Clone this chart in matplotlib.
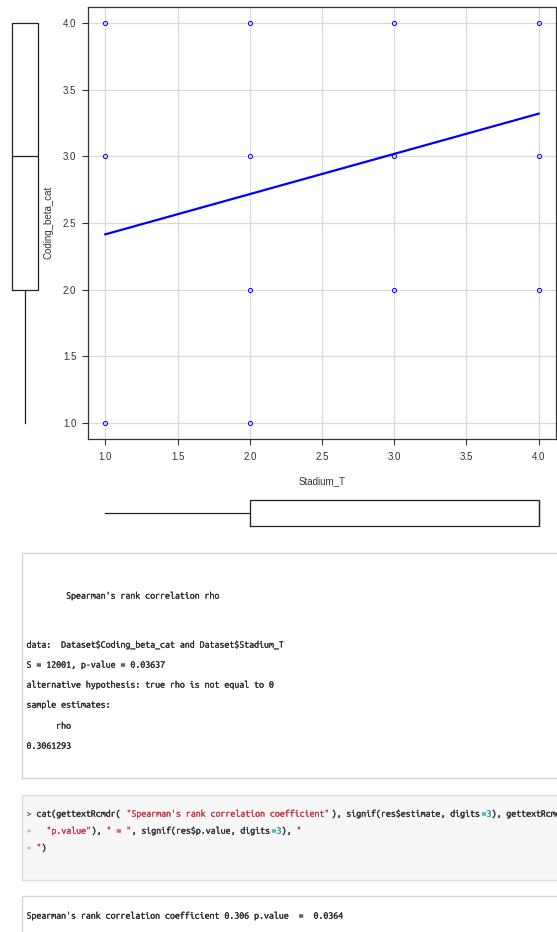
import matplotlib
matplotlib.use("Agg")
import matplotlib.pyplot as plt
import matplotlib.patheffects as pe
from matplotlib import font_manager as fm
from matplotlib.patches import Rectangle

W, H = 557, 932

# scatter: one mark per distinct (Stadium_T, Coding_beta_cat) pair
stadium_t = [1, 2, 3, 4, 1, 2, 3, 4, 2, 3, 4, 1, 2]
coding_beta = [4, 4, 4, 4, 3, 3, 3, 3, 2, 2, 2, 1, 1]

# least-squares line
fit_x = [1.0, 4.0]
fit_y = [2.415, 3.32]

# marginal boxplot summaries
box_coding = dict(whislo=1.0, q1=2.0, med=3.0, q3=4.0, whishi=4.0, fliers=[])
box_stadium = dict(whislo=1.0, q1=2.0, med=4.0, q3=4.0, whishi=4.0, fliers=[])

ticks = [1.0, 1.5, 2.0, 2.5, 3.0, 3.5, 4.0]

# R console output (plain lines)
test_lines = [
    "        Spearman's rank correlation rho",
    "data:  Dataset$Coding_beta_cat and Dataset$Stadium_T",
    "S = 12001, p-value = 0.03637",
    "alternative hypothesis: true rho is not equal to 0",
    "sample estimates:",
    "      rho",
    "0.3061293",
]
test_y = [595, 644, 664, 684, 704, 725, 745]

# R command, as (segment, kind) pieces per line
code_lines = [
    [("> ", "prompt"), ("cat(gettextRcmdr( ", "code"),
     ("\"Spearman's rank correlation coefficient\"", "string"),
     ("), signif(res$estimate, digits", "code"), ("=3", "number"),
     ("), gettextRcmdr(", "code")],
    [("+   ", "prompt"), ("\"p.value\"", "string"), ("), ", "code"),
     ("\" = \"", "string"), (", signif(res$p.value, digits", "code"),
     ("=3", "number"), ("), ", "code"), ("\"", "string")],
    [("+ ", "prompt"), ("\"", "string"), (")", "code")],
]
code_y = [813, 830, 847]

result_line = "Spearman's rank correlation coefficient 0.306 p.value  =  0.0364"
result_y = 915

KIND_COLOURS = {"prompt": "#777777", "code": "#262626",
                "string": "#c92f3e", "number": "#1d9aa3"}

available = {f.name for f in fm.fontManager.ttflist}
MONO = next(f for f in ["Ubuntu Mono", "Inconsolata", "PT Mono",
                        "DejaVu Sans Mono"] if f in available)
SANS = "Liberation Sans"
CHAR_W = 4.93   # px per character in the console panes


def px_rect(x, y, w, h):
    return [x / W, 1 - (y + h) / H, w / W, h / H]


fig = plt.figure(figsize=(W / 100, H / 100), dpi=100)
fig.patch.set_facecolor("white")

# ── console panes (full-figure axes in pixel units) ─────────────────────────
tx = fig.add_axes([0, 0, 1, 1], zorder=0)
tx.set_xlim(0, W)
tx.set_ylim(H, 0)
tx.axis("off")

tx.add_patch(Rectangle((21.5, 552.5), 560, 225, fc="white", ec="#d4d4d4", lw=1))
tx.add_patch(Rectangle((21.5, 794.5), 560, 85, fc="#f7f7f7", ec="#dcdcdc", lw=1))
tx.add_patch(Rectangle((21.5, 895.5), 560, 60, fc="white", ec="#d4d4d4", lw=1))

renderer = fig.canvas.get_renderer()


def advance(size):
    a = tx.text(0, 0, "0" * 41, fontfamily=MONO, fontsize=size)
    b = tx.text(0, 0, "0", fontfamily=MONO, fontsize=size)
    w = (a.get_window_extent(renderer).width
         - b.get_window_extent(renderer).width) / 40
    a.remove()
    b.remove()
    return w


# size the mono font so one character advances CHAR_W pixels
FS = 10 * CHAR_W / advance(10)
ADV = advance(FS)
X0 = 26.5
BASE = 3.6


def put(x_chars, y, s, colour):
    tx.text(X0 + x_chars * ADV, y + BASE, s, fontfamily=MONO, fontsize=FS,
            color=colour, va="baseline", ha="left", parse_math=False,
            path_effects=[pe.withStroke(linewidth=0.18, foreground=colour)])


for line, y in zip(test_lines, test_y):
    put(0, y, line, "#262626")

for pieces, y in zip(code_lines, code_y):
    col = 0
    for seg, kind in pieces:
        put(col, y, seg, KIND_COLOURS[kind])
        col += len(seg)

put(0, result_y, result_line, "#262626")

# ── scatter plot ────────────────────────────────────────────────────────────
ax = fig.add_axes(px_rect(88, 7, 468, 432), zorder=2)
ax.plot(fit_x, fit_y, color="#0000ff", lw=1.6, zorder=3)
ax.plot(stadium_t, coding_beta, ls="none", marker="o", ms=3, mfc="none",
        mec="#0000ff", mew=0.7, zorder=4)
ax.set_xlim(0.88, 4.12)
ax.set_ylim(0.88, 4.12)
ax.set_xticks(ticks)
ax.set_yticks(ticks)
ax.set_xticklabels([f"{t:.1f}" for t in ticks], fontfamily=SANS)
ax.set_yticklabels([f"{t:.1f}" for t in ticks], fontfamily=SANS)
ax.grid(color="#d9d9d9", lw=0.9)
ax.set_axisbelow(True)
ax.tick_params(direction="out", length=4, width=0.8, color="#333333",
               labelsize=7, labelcolor="#333333")
ax.tick_params(axis="x", pad=5)
ax.tick_params(axis="y", pad=4.5)
for sp in ax.spines.values():
    sp.set_color("#333333")
    sp.set_linewidth(0.9)

ax.set_xlabel("Stadium_T", fontfamily=SANS, fontsize=7, color="#333333")
ax.xaxis.set_label_coords(0.5, -(481 - 439) / 432)
ax.xaxis.label.set_va("center")
ax.set_ylabel("Coding_beta_cat", fontfamily=SANS, fontsize=7, color="#333333")
ax.yaxis.set_label_coords((48 - 88) / 468, 0.5 - (222 - 223) / 432)
ax.yaxis.label.set_va("center")

# ── marginal boxplots ───────────────────────────────────────────────────────
box_style = dict(showcaps=False, showfliers=False, patch_artist=False,
                 boxprops=dict(color="#222222", lw=0.9),
                 whiskerprops=dict(color="#222222", lw=0.9),
                 medianprops=dict(color="#222222", lw=0.9))

axl = fig.add_axes(px_rect(5, 7, 40, 432), zorder=2)
axl.bxp([box_coding], positions=[0], widths=1.3, **box_style)
axl.set_xlim(-1, 1)
axl.set_ylim(0.88, 4.12)
axl.axis("off")

axb = fig.add_axes(px_rect(88, 493, 468, 40), zorder=2)
axb.bxp([box_stadium], positions=[0], widths=1.265, orientation="horizontal",
        **box_style)
axb.set_xlim(0.88, 4.12)
axb.set_ylim(-1, 1)
axb.axis("off")

fig.savefig("out.png", dpi=100)
